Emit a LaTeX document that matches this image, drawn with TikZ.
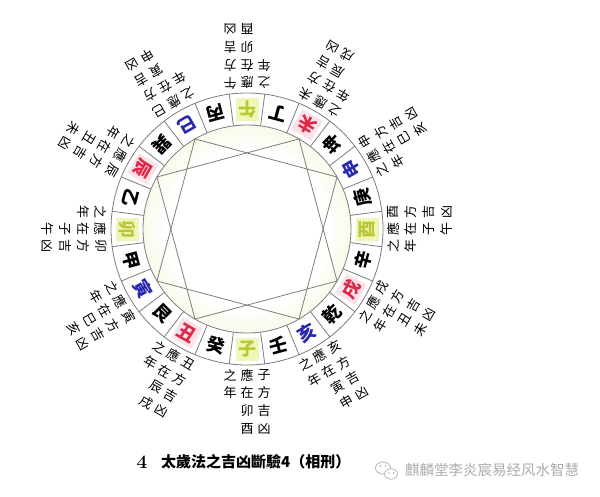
\documentclass[tikz,border=0pt]{standalone}
\usepackage{fontspec}
\newfontfamily\cjk{Noto Sans CJK SC}
\definecolor{ygtxt}{RGB}{185,200,50}
\definecolor{ygbg}{RGB}{240,245,185}
\definecolor{rdtxt}{RGB}{222,40,72}
\definecolor{rdbg}{RGB}{251,226,232}
\definecolor{bltxt}{RGB}{40,40,175}
\definecolor{ringline}{RGB}{125,125,125}
\definecolor{innerbg}{RGB}{249,249,234}
\definecolor{wmark}{RGB}{172,172,172}
\pgfdeclareradialshading{innerglow}{\pgfpoint{0bp}{0bp}}{color(0bp)=(white); color(19bp)=(white); color(25bp)=(innerbg); color(50bp)=(innerbg)}
\tikzset{
  ringch/.style={font=\cjk\bfseries\fontsize{18}{18}\selectfont, inner sep=0pt, minimum size=23pt},
  yg/.style={text=ygtxt, fill=ygbg},
  rd/.style={text=rdtxt, fill=rdbg},
  bl/.style={text=bltxt},
  bk/.style={text=black},
  annch/.style={font=\cjk\fontsize{13}{13}\selectfont, inner sep=0pt},
  capch/.style={font=\cjk\bfseries\fontsize{15}{15}\selectfont, inner sep=0pt},
  ringdraw/.style={draw=ringline, line width=0.8pt},
  stardraw/.style={draw=ringline, line width=0.8pt, line join=miter}
}
\begin{document}
\begin{tikzpicture}[x=1pt,y=1pt]
\path[use as bounding box, fill=white] (0,0) rectangle (600,-496);
\begin{scope}[shift={(247,-229)}]
  % inner disk
  \shade[shading=innerglow] (0,0) circle (104);
  \draw[ringdraw] (0,0) circle (136);
  \draw[ringdraw] (0,0) circle (104);
  \foreach \k in {0,...,23}{
    \draw[ringdraw] ({97.5-15*\k}:104) -- ({97.5-15*\k}:136);
  }
  % vertices of the two squares
  \foreach \v in {150,60,-30,-120,120,30,-60,-150}{
    \coordinate (v\v) at (\v:104);
  }
  \draw[stardraw] (v150) -- (v60) -- (v-30) -- (v-120) -- cycle;
  \draw[stardraw] (v120) -- (v30) -- (v-60) -- (v-150) -- cycle;
  % ring characters
  \foreach \i/\ch/\st in {0/午/yg,1/丁/bk,2/未/rd,3/坤/bk,4/申/bl,5/庚/bk,6/酉/yg,7/辛/bk,8/戌/rd,9/乾/bk,10/亥/bl,11/壬/bk,12/子/yg,13/癸/bk,14/丑/rd,15/艮/bk,16/寅/bl,17/甲/bk,18/卯/yg,19/乙/bk,20/辰/rd,21/巽/bk,22/巳/bl,23/丙/bk}{
    \node[ringch,\st,rotate={180-15*\i}] (r\i) at ({90-15*\i}:120) {\ch};
  }
  % annotations
  \foreach \k/\a/\br/\xx/\yy in {1/-90/子/卯/酉,2/-120/丑/辰/戌,3/-150/寅/巳/亥,4/180/卯/子/午,5/150/辰/丑/未,6/120/巳/寅/申,7/90/午/卯/酉,8/60/未/辰/戌,9/30/申/巳/亥,10/0/酉/子/午,11/-30/戌/丑/未,12/-60/亥/寅/申}{
    \begin{scope}[rotate={\a+90}, transform shape]
      \node[annch] (a\k-11) at (-17,-146) {之};
      \node[annch] (a\k-12) at (0,-146) {應};
      \node[annch] (a\k-13) at (17,-146) {\br};
      \node[annch] (a\k-21) at (-17,-164) {年};
      \node[annch] (a\k-22) at (0,-164) {在};
      \node[annch] (a\k-23) at (17,-164) {方};
      \node[annch] (a\k-32) at (0,-182) {\xx};
      \node[annch] (a\k-33) at (17,-182) {吉};
      \node[annch] (a\k-42) at (0,-200) {\yy};
      \node[annch] (a\k-43) at (17,-200) {凶};
    \end{scope}
  }
\end{scope}
% caption
\node[font=\bfseries\fontsize{19}{19}\selectfont, inner sep=0pt] (fignum) at (142,-462) {4};
\node[capch, anchor=west] (caption) at (161,-462) {太歲法之吉凶斷驗4（相刑）};
% watermark
\draw[wmark, line width=0.7pt] (383,-468) ellipse (7.5 and 6);
\draw[wmark, line width=0.7pt, fill=white] (391,-474) ellipse (6.5 and 5.2);
\fill[wmark] (380.5,-466) circle (0.9) (385.5,-466) circle (0.9) (389,-473) circle (0.8) (393.5,-473) circle (0.8);
\node[font=\cjk\fontsize{14.5}{14.5}\selectfont, text=wmark, anchor=west, inner sep=0pt] (wm) at (405,-470) {麒麟堂李炎宸易经风水智慧};
\end{tikzpicture}
\end{document}
